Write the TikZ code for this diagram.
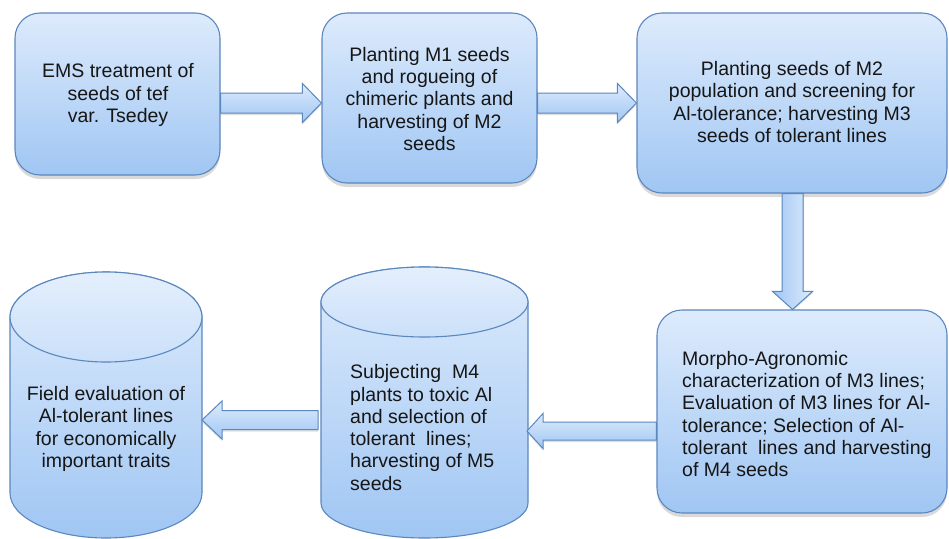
\documentclass[tikz,border=0pt]{standalone}
\usepackage{fontspec}
\setmainfont{Liberation Sans}
\usetikzlibrary{calc,shadows}
\definecolor{edge}{HTML}{5B87BF}
\definecolor{topc}{HTML}{DDEBFC}
\definecolor{botc}{HTML}{A0C6F3}
\definecolor{txt}{HTML}{161616}
\begin{document}
\begin{tikzpicture}[x=1pt,y=1pt,
  box/.style={draw=edge, line width=1.1pt, rounded corners=25pt, top color=topc, bottom color=botc,
    drop shadow={opacity=0.3, shadow xshift=0pt, shadow yshift=-4pt}, inner sep=0pt},
  lbl/.style={text=txt, font=\fontsize{19.5}{22.3}\selectfont, inner sep=0pt},
  arr/.style={draw=edge, line width=1pt, top color=topc, bottom color=botc,
    drop shadow={opacity=0.25, shadow xshift=0pt, shadow yshift=-2pt}},
  varr/.style={draw=edge, line width=1pt, left color=botc, right color=topc,
    drop shadow={opacity=0.25, shadow xshift=1pt, shadow yshift=-1pt}},
  cylbody/.style={draw=edge, line width=1.1pt, top color=topc, bottom color=botc},
  cyltop/.style={draw=edge, line width=1.1pt, top color=topc!80!white, bottom color=topc!70!botc}]
\useasboundingbox (0,0) rectangle (949,-538);

% rounded boxes
\node[box, minimum width=205pt, minimum height=162pt] (b1) at (117.5,-94) {};
\node[box, minimum width=215pt, minimum height=170pt] (b2) at (429.5,-98) {};
\node[box, minimum width=310pt, minimum height=180pt] (b3) at (792,-103) {};
\node[box, minimum width=290pt, minimum height=203pt] (b4) at (802,-411.5) {};

% cylinders
\path[cylbody] (10,-317) -- (10,-493) arc[start angle=180, end angle=360, x radius=96pt, y radius=45pt]
  -- (202,-317) arc[start angle=0, end angle=180, x radius=96pt, y radius=45pt] -- cycle;
\path[cyltop] (106,-317) ellipse[x radius=96pt, y radius=45pt];
\path[cylbody] (321,-302) -- (321,-503) arc[start angle=180, end angle=360, x radius=103.5pt, y radius=35pt]
  -- (528,-302) arc[start angle=0, end angle=180, x radius=103.5pt, y radius=35pt] -- cycle;
\path[cyltop] (424.5,-302) ellipse[x radius=103.5pt, y radius=35pt];
\coordinate (c1) at (202,-420);
\coordinate (c2r) at (527,-431);
\coordinate (c2l) at (321,-420);

% labels
\node[lbl, align=center] (t1) at (118,-95) {EMS treatment of\\seeds of tef\\var. Tsedey};
\node[lbl, align=center] (t2) at (429.5,-99) {Planting M1 seeds\\and rogueing of\\chimeric plants and\\harvesting of M2\\seeds};
\node[lbl, align=center] (t3) at (792,-102) {Planting seeds of M2\\population and screening for\\Al-tolerance; harvesting M3\\seeds of tolerant lines};
\node[lbl, align=left, anchor=west] (t4) at (682,-414) {Morpho-Agronomic\\characterization of M3 lines;\\Evaluation of M3 lines for Al-\\tolerance; Selection of Al-\\tolerant\ \ lines and harvesting\\of M4 seeds};
\node[lbl, align=left, anchor=west] (t5) at (350,-427.5) {Subjecting\ \ M4\\plants to toxic Al\\and selection of\\tolerant\ \ lines;\\harvesting of M5\\seeds};
\node[lbl, align=center] (t6) at (106,-429) {Field evaluation of\\Al-tolerant lines\\for economically\\important traits};

% arrows
\coordinate (a1s) at (b1.east |- 0,-103);
\coordinate (a1e) at (b2.west |- 0,-103);
\path[arr] ($(a1s)+(0,10)$) -- ($(a1e)+(-19,10)$) -- ($(a1e)+(-19,19.5)$) -- (a1e)
  -- ($(a1e)+(-19,-19.5)$) -- ($(a1e)+(-19,-10)$) -- ($(a1s)+(0,-10)$) -- cycle;
\coordinate (a2s) at (b2.east |- 0,-103);
\coordinate (a2e) at (b3.west |- 0,-103);
\path[arr] ($(a2s)+(0,10)$) -- ($(a2e)+(-19,10)$) -- ($(a2e)+(-19,19.5)$) -- (a2e)
  -- ($(a2e)+(-19,-19.5)$) -- ($(a2e)+(-19,-10)$) -- ($(a2s)+(0,-10)$) -- cycle;
\coordinate (a3s) at (b3.south -| 792.5,0);
\coordinate (a3e) at (b4.north -| 792.5,0);
\path[varr] ($(a3s)+(-10.5,0)$) -- ($(a3e)+(-10.5,18)$) -- ($(a3e)+(-20,18)$) -- (a3e)
  -- ($(a3e)+(20,18)$) -- ($(a3e)+(10.5,18)$) -- ($(a3s)+(10.5,0)$) -- cycle;
\coordinate (a4s) at (b4.west |- 0,-431);
\path[arr] ($(a4s)+(0,9)$) -- ($(c2r)+(16,9)$) -- ($(c2r)+(16,17.5)$) -- (c2r)
  -- ($(c2r)+(16,-17.5)$) -- ($(c2r)+(16,-9)$) -- ($(a4s)+(0,-9)$) -- cycle;
\path[arr] ($(c2l)+(-3,9.5)$) -- ($(c1)+(20,9.5)$) -- ($(c1)+(20,19)$) -- (c1)
  -- ($(c1)+(20,-19)$) -- ($(c1)+(20,-9.5)$) -- ($(c2l)+(-3,-9.5)$) -- cycle;
\end{tikzpicture}
\end{document}
